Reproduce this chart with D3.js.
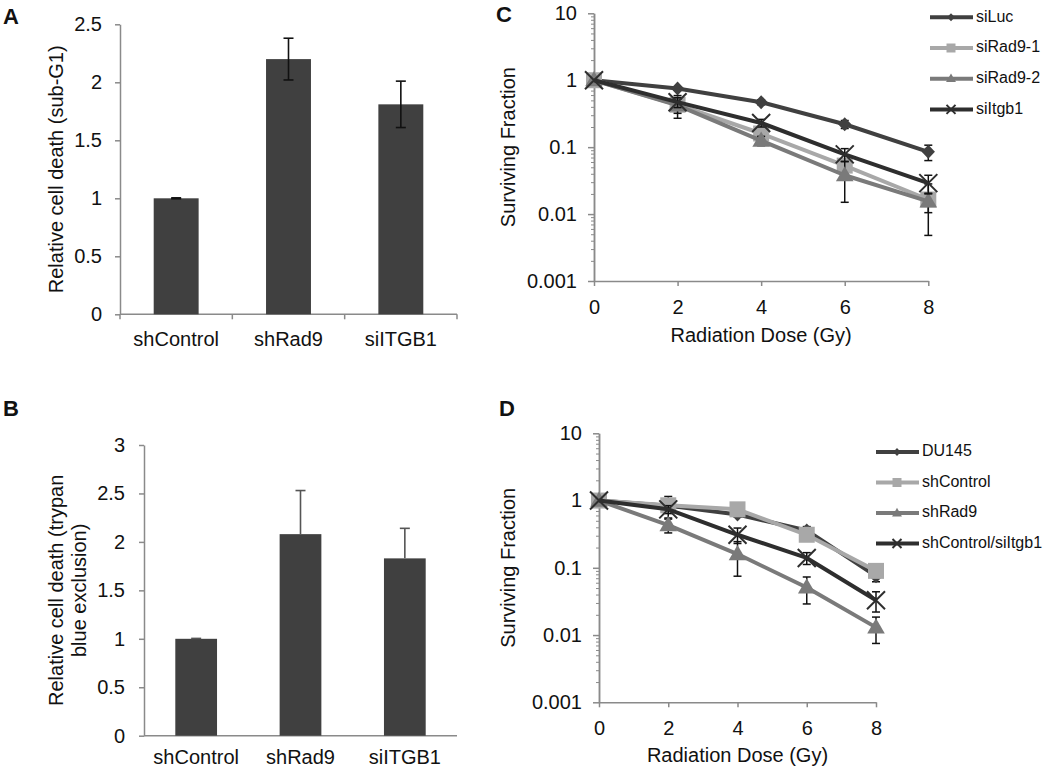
<!DOCTYPE html>
<html><head><meta charset="utf-8">
<script src="https://cdn.jsdelivr.net/npm/d3@7"></script>
<style>
html,body{margin:0;padding:0;background:#fff;}
svg text{font-family:"Liberation Sans",Arial,sans-serif;fill:#111;}
</style></head>
<body>
<svg id="chart" width="1050" height="769"></svg>
<script>
// ---------- DATA ----------
const barCategories = ["shControl", "shRad9", "siITGB1"];
const subG1Values = [1.0, 2.2, 1.81];
const subG1Errors = [0.004, 0.18, 0.2];
const trypanValues = [1.0, 2.08, 1.83];
const trypanErrors = [0.004, 0.45, 0.31];
const barTicksA = [0, 0.5, 1, 1.5, 2, 2.5];
const barTicksB = [0, 0.5, 1, 1.5, 2, 2.5, 3];

const doses = [0, 2, 4, 6, 8];
const logTicks = [0.001, 0.01, 0.1, 1, 10];
const logTickLabels = ["0.001", "0.01", "0.1", "1", "10"];

const seriesNamesC = ["siLuc", "siRad9-1", "siRad9-2", "siItgb1"];
const siLuc = [1, 0.75, 0.47, 0.22, 0.085];
const siLucErr = [0, 0.04, 0.04, 0.03, 0.022];
const siRad9_1 = [1, 0.43, 0.16, 0.053, 0.0165];
const siRad9_1Err = [0, 0.16, 0.03, 0.012, 0.0117];
const siRad9_2 = [1, 0.42, 0.125, 0.038, 0.0155];
const siRad9_2Err = [0, 0.1, 0.02, 0.023, 0.005];
const siItgb1 = [1, 0.47, 0.23, 0.078, 0.029];
const siItgb1Err = [0, 0.08, 0.03, 0.017, 0.009];

const seriesNamesD = ["DU145", "shControl", "shRad9", "shControl/siItgb1"];
const du145 = [1, 0.84, 0.62, 0.36, 0.075];
const du145Err = [0, 0.1, 0.05, 0.05, 0.013];
const shControl = [1, 0.85, 0.74, 0.31, 0.09];
const shControlErr = [0, 0.3, 0.1, 0.05, 0.01];
const shRad9 = [1, 0.43, 0.16, 0.051, 0.013];
const shRad9Err = [0, 0.1, 0.085, 0.022, 0.0055];
const shCtrlItgb1 = [1, 0.74, 0.31, 0.14, 0.033];
const shCtrlItgb1Err = [0, 0.1, 0.08, 0.028, 0.011];

// ---------- STYLE ----------
const axisColor = "#8a8a8a";
const barColor = "#404040";
const seriesStyles = [
  {color: "#404040", marker: "diamond"},
  {color: "#a8a8a8", marker: "square"},
  {color: "#7a7a7a", marker: "triangle"},
  {color: "#2e2e2e", marker: "x"}
];

const svg = d3.select("#chart");

function styleAxis(g) {
  g.selectAll(".domain").attr("stroke", axisColor).attr("stroke-width", 1.5);
  g.selectAll(".tick line").attr("stroke", axisColor).attr("stroke-width", 1.5);
  g.selectAll(".tick text").attr("font-size", 20).attr("fill", "#111")
    .attr("font-family", '"Liberation Sans", Arial, sans-serif');
}

function panelLetter(t, x, y) {
  svg.append("text").attr("x", x).attr("y", y).attr("font-size", 22)
    .attr("font-weight", "bold").attr("dominant-baseline", "middle").text(t);
}

// ---------- BAR PANELS ----------
function barPanel(opt) {
  const x = d3.scaleBand().domain(barCategories).range([opt.x0, opt.x1])
    .paddingInner(0.6).paddingOuter(0.3);
  const y = d3.scaleLinear().domain([0, opt.ymax]).range([opt.y0, opt.y1]);
  const g = svg.append("g");

  const ya = g.append("g").attr("transform", `translate(${opt.x0},0)`)
    .call(d3.axisLeft(y).tickValues(opt.ticks).tickSize(5).tickPadding(opt.tickPad)
      .tickFormat(d3.format("~g")).tickSizeOuter(0));
  styleAxis(ya);

  const xa = g.append("g").attr("transform", `translate(0,${opt.y0})`);
  xa.append("line").attr("x1", opt.x0).attr("x2", opt.x1).attr("stroke", axisColor).attr("stroke-width", 1.5);
  if (opt.catTicks) {
    const step = x.step();
    const bounds = d3.range(barCategories.length + 1).map(i => opt.x0 + i * step);
    xa.selectAll("line.ct").data(bounds).enter().append("line").attr("class", "ct")
      .attr("x1", d => d).attr("x2", d => d).attr("y1", 0).attr("y2", 5)
      .attr("stroke", axisColor).attr("stroke-width", 1.5);
  }
  xa.selectAll("text").data(barCategories).enter().append("text")
    .attr("x", d => x(d) + x.bandwidth() / 2).attr("y", opt.catDy)
    .attr("text-anchor", "middle").attr("dominant-baseline", "middle")
    .attr("font-size", 20).text(d => d);

  g.selectAll("rect.bar").data(barCategories).enter().append("rect").attr("class", "bar")
    .attr("x", d => x(d)).attr("width", x.bandwidth())
    .attr("y", (d, i) => y(opt.values[i])).attr("height", (d, i) => y(0) - y(opt.values[i]))
    .attr("fill", barColor);

  const cap = 5;
  barCategories.forEach((c, i) => {
    const cx = x(c) + x.bandwidth() / 2;
    const v = opt.values[i], e = opt.errors[i];
    const lo = opt.oneSided ? v : v - e;
    g.append("line").attr("x1", cx).attr("x2", cx).attr("y1", y(lo)).attr("y2", y(v + e))
      .attr("stroke", opt.errColor).attr("stroke-width", 1.6);
    g.append("line").attr("x1", cx - cap).attr("x2", cx + cap).attr("y1", y(v + e)).attr("y2", y(v + e))
      .attr("stroke", opt.errColor).attr("stroke-width", 1.6);
    if (!opt.oneSided) {
      g.append("line").attr("x1", cx - cap).attr("x2", cx + cap).attr("y1", y(lo)).attr("y2", y(lo))
        .attr("stroke", opt.errColor).attr("stroke-width", 1.6);
    }
  });

  const cy = (opt.y0 + opt.y1) / 2;
  opt.title.forEach((t, i) => {
    svg.append("text").attr("transform", `translate(${opt.titleX[i]},${cy}) rotate(-90)`)
      .attr("text-anchor", "middle").attr("dominant-baseline", "middle")
      .attr("font-size", 20).text(t);
  });
}

barPanel({x0: 120, x1: 457, y0: 314.3, y1: 24.3, ymax: 2.5, ticks: barTicksA, tickPad: 13,
  values: subG1Values, errors: subG1Errors, oneSided: false, errColor: "#111",
  catTicks: true, catDy: 26, title: ["Relative cell death (sub-G1)"], titleX: [58]});
barPanel({x0: 144, x1: 457, y0: 735.7, y1: 445, ymax: 3, ticks: barTicksB, tickPad: 14,
  values: trypanValues, errors: trypanErrors, oneSided: true, errColor: "#555",
  catTicks: false, catDy: 23.5, title: ["Relative cell death (trypan", "blue exclusion)"], titleX: [58, 81]});

// ---------- LINE PANELS ----------
function markerPath(type, s) {
  if (type === "diamond") return `M0,${-s}L${s*0.95},0L0,${s}L${-s*0.95},0Z`;
  if (type === "square") return `M${-s},${-s}H${s}V${s}H${-s}Z`;
  if (type === "triangle") { const h = s * 1.9; return `M0,${-h*0.6}L${s*1.1},${h*0.4}L${-s*1.1},${h*0.4}Z`; }
  return `M${-s},${-s}L${s},${s}M${-s},${s}L${s},${-s}`;
}
const markerScale = {diamond: 7, square: 8, triangle: 8, x: 9};
const legendScale = {diamond: 4, square: 4.5, triangle: 4.5, x: 4.5};

function drawMarker(g, type, color, cx, cy, s) {
  const p = g.append("path").attr("d", markerPath(type, s)).attr("transform", `translate(${cx},${cy})`);
  if (type === "x") p.attr("fill", "none").attr("stroke", color).attr("stroke-width", 2);
  else p.attr("fill", color).attr("stroke", "none");
}

function linePanel(opt) {
  const x = d3.scaleLinear().domain([0, 8]).range([opt.x0, opt.x1]);
  const y = d3.scaleLog().domain([0.001, 10]).range([opt.y0, opt.y1]);
  const g = svg.append("g");

  const minors = [];
  [0.001, 0.01, 0.1, 1].forEach(b => { for (let k = 2; k <= 9; k++) minors.push(b * k); });
  const ym = g.append("g").attr("transform", `translate(${opt.x0},0)`)
    .call(d3.axisLeft(y).tickValues(minors).tickSize(3).tickFormat("").tickSizeOuter(0));
  styleAxis(ym);
  ym.selectAll(".tick line").attr("stroke-width", 1);
  const ya = g.append("g").attr("transform", `translate(${opt.x0},0)`)
    .call(d3.axisLeft(y).tickValues(logTicks).tickSize(6).tickPadding(11)
      .tickFormat((d, i) => logTickLabels[i]).tickSizeOuter(0));
  styleAxis(ya);

  const xa = g.append("g").attr("transform", `translate(0,${opt.y0})`)
    .call(d3.axisBottom(x).tickValues(doses).tickSize(5).tickPadding(opt.xPad).tickSizeOuter(0));
  styleAxis(xa);

  svg.append("text").attr("x", (opt.x0 + opt.x1) / 2).attr("y", opt.xTitleY)
    .attr("text-anchor", "middle").attr("dominant-baseline", "middle").attr("font-size", 20)
    .text("Radiation Dose (Gy)");
  svg.append("text").attr("transform", `translate(510,${(opt.y0 + opt.y1) / 2}) rotate(-90)`)
    .attr("text-anchor", "middle").attr("dominant-baseline", "middle").attr("font-size", 20)
    .text("Surviving Fraction");

  const line = d3.line().x((d, i) => x(doses[i])).y(d => y(d));
  opt.series.forEach((s, si) => {
    const st = seriesStyles[si];
    const sg = g.append("g");
    sg.append("path").datum(s.values).attr("d", line).attr("fill", "none")
      .attr("stroke", st.color).attr("stroke-width", 4).attr("stroke-linejoin", "round");
    s.values.forEach((v, i) => {
      const e = s.errors[i];
      if (!e) return;
      const cx = x(doses[i]);
      const hi = y(v + e), lo = y(Math.max(v - e, 0.0011));
      sg.append("line").attr("x1", cx).attr("x2", cx).attr("y1", hi).attr("y2", lo).attr("stroke", "#111").attr("stroke-width", 1.5);
      [hi, lo].forEach(yy => sg.append("line").attr("x1", cx - 4).attr("x2", cx + 4)
        .attr("y1", yy).attr("y2", yy).attr("stroke", "#111").attr("stroke-width", 1.5));
    });
    s.values.forEach((v, i) => drawMarker(sg, st.marker, st.color, x(doses[i]), y(v), markerScale[st.marker]));
  });

  // legend
  const lg = svg.append("g");
  opt.series.forEach((s, si) => {
    const st = seriesStyles[si];
    const ly = opt.legY + si * opt.legStep;
    lg.append("line").attr("x1", opt.legX).attr("x2", opt.legX + 43).attr("y1", ly).attr("y2", ly)
      .attr("stroke", st.color).attr("stroke-width", 4);
    drawMarker(lg, st.marker, st.color, opt.legX + 21, ly, legendScale[st.marker]);
    lg.append("text").attr("x", opt.legX + 46).attr("y", ly).attr("dominant-baseline", "middle")
      .attr("font-size", 16).text(s.name);
  });
}

linePanel({x0: 594, x1: 928.3, y0: 281, y1: 13.3, xPad: 14, xTitleY: 337,
  legX: 930, legY: 17.3, legStep: 30.7,
  series: [
    {name: seriesNamesC[0], values: siLuc, errors: siLucErr},
    {name: seriesNamesC[1], values: siRad9_1, errors: siRad9_1Err},
    {name: seriesNamesC[2], values: siRad9_2, errors: siRad9_2Err},
    {name: seriesNamesC[3], values: siItgb1, errors: siItgb1Err}
  ]});
linePanel({x0: 599, x1: 876, y0: 702.3, y1: 433.3, xPad: 14, xTitleY: 757,
  legX: 876, legY: 452, legStep: 30.5,
  series: [
    {name: seriesNamesD[0], values: du145, errors: du145Err},
    {name: seriesNamesD[1], values: shControl, errors: shControlErr},
    {name: seriesNamesD[2], values: shRad9, errors: shRad9Err},
    {name: seriesNamesD[3], values: shCtrlItgb1, errors: shCtrlItgb1Err}
  ]});

panelLetter("A", 3, 18);
panelLetter("C", 496, 16);
panelLetter("B", 3, 410);
panelLetter("D", 499, 410);
</script>
</body></html>
